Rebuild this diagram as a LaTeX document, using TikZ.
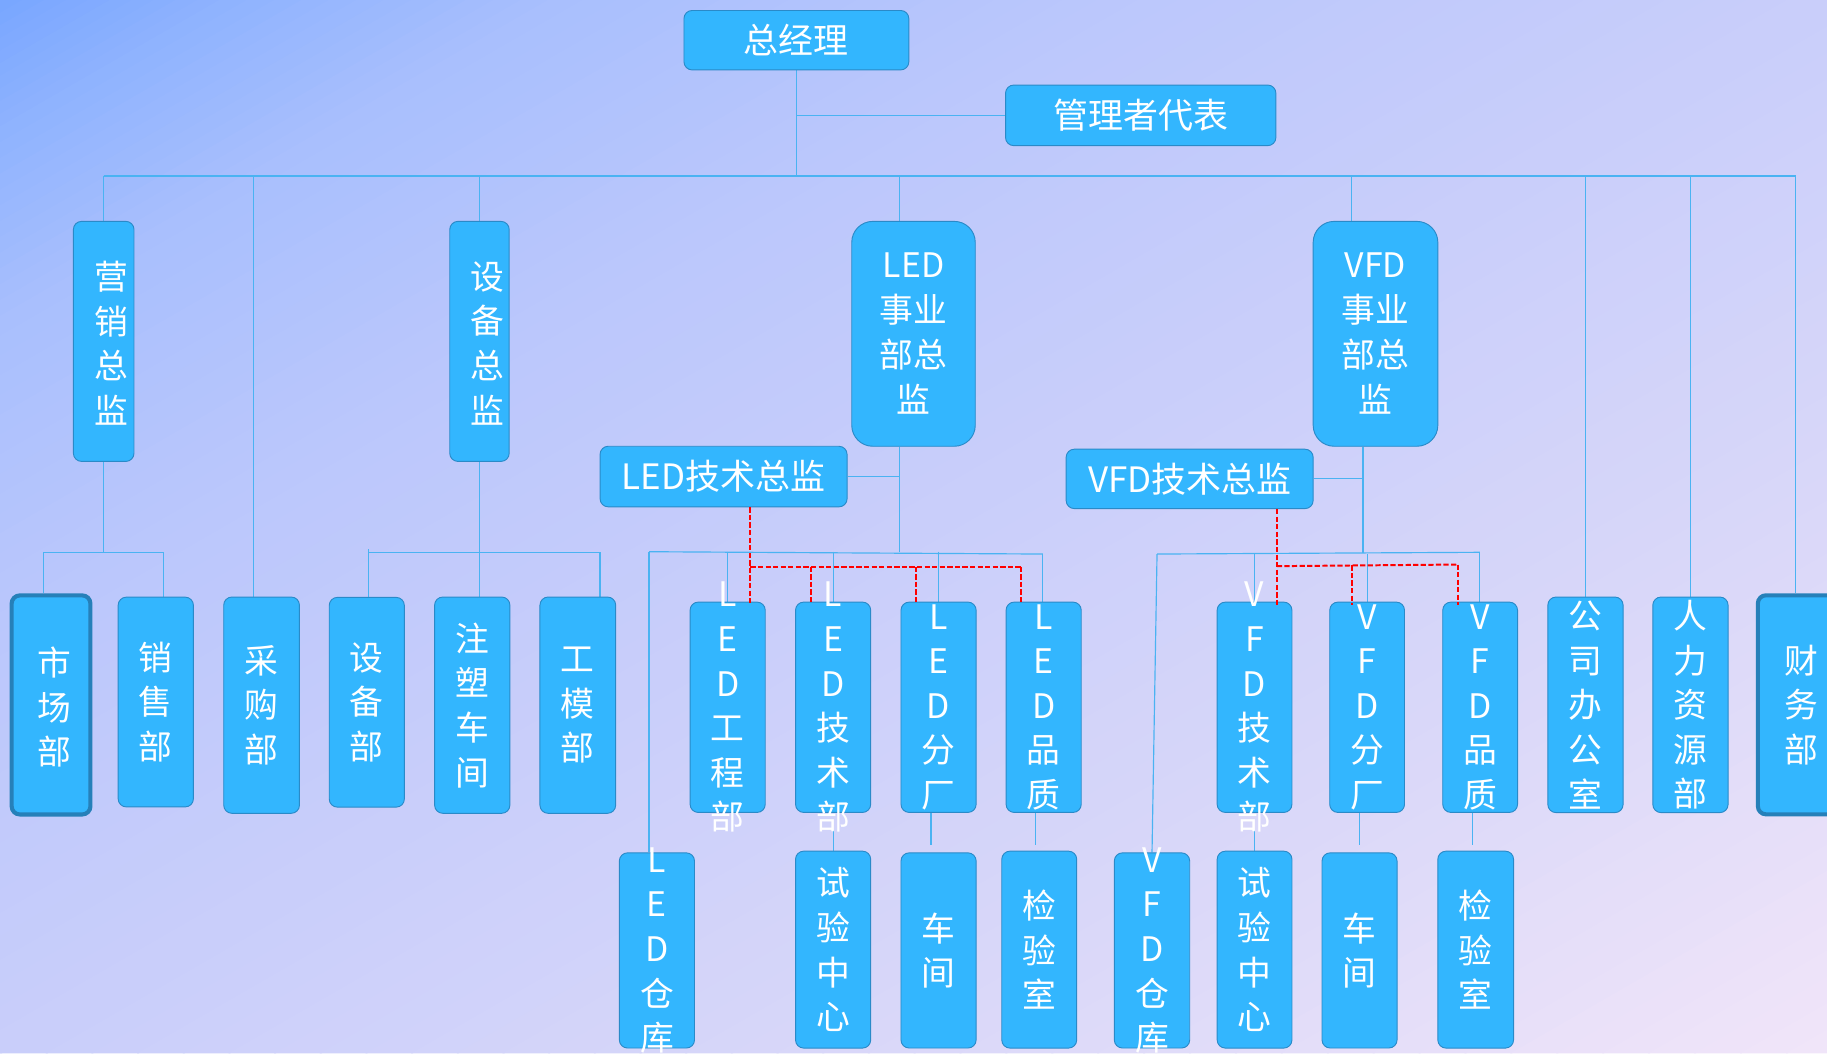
\documentclass[tikz,border=0pt]{standalone}
\usepackage{fontspec}
\setmainfont{Noto Sans CJK SC}
\usetikzlibrary{calc}
\definecolor{boxc}{HTML}{33B6FE}
\definecolor{bdr}{HTML}{2A8AC8}
\definecolor{hotb}{HTML}{2680B9}
\definecolor{linec}{HTML}{4AB3F2}
\definecolor{g0}{HTML}{78A6FF}
\definecolor{g1}{HTML}{8EB2FE}
\definecolor{g2}{HTML}{A8BFFD}
\definecolor{g3}{HTML}{BBC7FC}
\definecolor{g4}{HTML}{C9CEFA}
\definecolor{g5}{HTML}{DAD8F9}
\definecolor{g6}{HTML}{F1E5F9}
\pgfdeclarelayer{back}
\pgfsetlayers{back,main}
\newcommand\VB[7]{%
  \node[#6, minimum width=#4pt, minimum height=#5pt] (#1) at (#2,#3) {};
  \node[vt] (#1t) at (#1) {#7};}
% gradient segment: s from #1 to #2 (x-intercept on top edge), colours #3 -> #4, #5 strips
\newcommand\bgseg[5]{%
  \foreach \i in {1,...,#5}{%
    \pgfmathsetmacro\sa{#1+(#2-#1)*(\i-1)/#5}%
    \pgfmathsetmacro\sb{#1+(#2-#1)*\i/#5+1.5}%
    \pgfmathsetmacro\pc{100*(1-(\i-0.5)/#5)}%
    \fill[color=#3!\pc!#4] (\sa,0) -- (\sb,0) -- (\sb-1568,904) -- (\sa-1568,904) -- cycle;
  }}
\begin{document}
\begin{tikzpicture}[x=1pt,y=-1pt,
 box/.style={draw=bdr, fill=boxc, line width=0.8pt, rounded corners=7pt, inner sep=0pt, text=white},
 hbox/.style={box, font=\fontsize{30}{36}\selectfont},
 hot/.style={box, draw=hotb, line width=3.5pt},
 vt/.style={text=white, align=center, inner sep=0pt, font=\fontsize{29}{38.3}\selectfont},
 ln/.style={draw=linec, line width=1pt},
 rdash/.style={draw=red, line width=1.7pt, dash pattern=on 4.5pt off 2pt},
]
\useasboundingbox (0,0) rectangle (1568,904);
\begin{pgfonlayer}{back}
\begin{scope}
\clip (0,0) rectangle (1568,904);
\fill[g6] (0,0) rectangle (1568,904);
\bgseg{0}{188}{g0}{g1}{10}
\bgseg{188}{470}{g1}{g2}{12}
\bgseg{470}{941}{g2}{g3}{16}
\bgseg{941}{1568}{g3}{g4}{18}
\bgseg{1568}{2352}{g4}{g5}{20}
\bgseg{2352}{3140}{g5}{g6}{20}
\end{scope}
\end{pgfonlayer}

% top
\node[hbox, minimum width=193pt, minimum height=51pt] (gm) at (683.5,34.5) {总经理};
\node[hbox, minimum width=232pt, minimum height=52pt] (rep) at (979,99) {管理者代表};

% directors
\VB{mkt}{89}{293}{52}{206}{box}{}
\node[vt] (mktx) at (96,294.5) {营\\销\\总\\监};
\VB{eqd}{411.5}{293}{51}{206}{box}{}
\node[vt] (eqdx) at (418,294.5) {设\\备\\总\\监};
\node[box, rounded corners=18pt, minimum width=106pt, minimum height=193pt, align=center, font=\fontsize{29}{38.7}\selectfont] (led) at (784,286.5) {LED\\事业\\部总\\监};
\node[box, rounded corners=18pt, minimum width=107pt, minimum height=193pt, align=center, font=\fontsize{29}{38.7}\selectfont] (vfd) at (1180.5,286.5) {VFD\\事业\\部总\\监};
\node[hbox, minimum width=212pt, minimum height=52pt] (ledt) at (621,409) {LED技术总监};
\node[hbox, minimum width=212pt, minimum height=51pt] (vfdt) at (1021,411) {VFD技术总监};

% row 1 left
\node[hot, minimum width=67.6pt, minimum height=188pt] (shichang) at (43.8,605) {};
\node[vt] (shichangt) at (46.3,607) {市\\场\\部};
\VB{xiaoshou}{133.7}{602.5}{64.6}{180}{box}{销\\售\\部}
\VB{caigou}{224.5}{605.2}{65}{185.6}{box}{采\\购\\部}
\VB{shebei}{314.8}{602.7}{64.5}{180}{box}{设\\备\\部}
\VB{zhusu}{405.3}{605.2}{64.6}{185.6}{box}{注\\塑\\车\\间}
\VB{gongmo}{495.9}{605.2}{65}{185.6}{box}{工\\模\\部}

% row 1 LED
\VB{lgc}{624.5}{607}{64.5}{180.5}{box}{L\\E\\D\\工\\程\\部}
\VB{ljs}{715}{607}{64.5}{180.5}{box}{L\\E\\D\\技\\术\\部}
\VB{lfc}{805.5}{607}{64.5}{180.5}{box}{L\\E\\D\\分\\厂}
\VB{lpz}{895.7}{607}{64.5}{180.5}{box}{L\\E\\D\\品\\质}

% row 1 VFD and right
\VB{vjs}{1076.7}{607}{64.2}{180.5}{box}{V\\F\\D\\技\\术\\部}
\VB{vfc}{1173.3}{607}{64.2}{180.5}{box}{V\\F\\D\\分\\厂}
\VB{vpz}{1270.3}{607}{64.2}{180.5}{box}{V\\F\\D\\品\\质}
\VB{gs}{1360.7}{604.9}{64.6}{185}{box}{公\\司\\办\\公\\室}
\VB{rl}{1450.8}{604.9}{64.6}{185}{box}{人\\力\\资\\源\\部}
\VB{cw}{1545.8}{604.9}{74.3}{188}{hot}{财\\务\\部}

% row 2
\VB{lck}{563.8}{815.7}{64.5}{167.5}{box}{L\\E\\D\\仓\\库}
\VB{lsy}{715}{815}{64.5}{169}{box}{试\\验\\中\\心}
\VB{lcj}{805.5}{815.7}{64.5}{167.5}{box}{车\\间}
\VB{ljy}{891.9}{815}{64.3}{169}{box}{检\\验\\室}
\VB{vck}{988.7}{815.7}{64.7}{167.5}{box}{V\\F\\D\\仓\\库}
\VB{vsy}{1076.7}{815}{64.2}{169}{box}{试\\验\\中\\心}
\VB{vcj}{1166.8}{815.7}{64.4}{167.5}{box}{车\\间}
\VB{vjy}{1266.5}{815}{65}{169}{box}{检\\验\\室}

\begin{pgfonlayer}{back}
% main bar
\coordinate (barL) at (89,151);
\coordinate (barR) at (1541,151);
\draw[ln] (gm.south) -- (gm.south |- barL);
\draw[ln] (gm.south |- rep.west) -- (rep.west);
\draw[ln, line width=1.4pt] (barL) -- (barR);
\draw[ln] (barL) -- (mkt.north);
\coordinate (cgx) at (217.8,151);
\draw[ln] (cgx) -- (cgx |- caigou.north);
\draw[ln] (eqd.north |- barL) -- (eqd.north);
\coordinate (ledx) at (772,151);
\draw[ln] (ledx) -- (ledx |- led.north);
\coordinate (vfdx) at (1160,151);
\draw[ln] (vfdx) -- (vfdx |- vfd.north);
\coordinate (gsx) at (1360.5,151);
\draw[ln] (gsx) -- (gsx |- gs.north);
\coordinate (rlx) at (1451,151);
\draw[ln] (rlx) -- (rlx |- rl.north);
\draw[ln] (barR) -- (barR |- cw.north);

% marketing
\coordinate (mkL) at (37.4,474);
\coordinate (mkR) at (140.5,474);
\draw[ln] (mkt.south) -- (mkt.south |- mkL);
\draw[ln] (mkL |- shichang.north) -- (mkL) -- (mkR) -- (mkR |- xiaoshou.north);

% equipment
\coordinate (eqL) at (316,474);
\coordinate (eqR) at (515,474);
\draw[ln] (eqd.south) -- (eqd.south |- zhusu.north);
\draw[ln] (eqL |- shebei.north) -- ($(eqL)+(0,-3)$);
\draw[ln] (eqL) -- (eqR) -- (eqR |- gongmo.north);

% LED
\coordinate (ledb) at (772,474);
\draw[ln] (ledx |- led.south) -- (ledb);
\draw[ln] (ledt.east) -- (ledx |- ledt.east);
\coordinate (lbL) at (557,473.5);
\coordinate (lbR) at (895,475.5);
\draw[ln] (lbL) -- (lbR);
\draw[ln] (lbL) -- (lbL |- lck.north);
\draw[ln] (lgc.north |- lbL) -- (lgc.north);
\draw[ln] (ljs.north |- lbL) -- (ljs.north);
\draw[ln] (lfc.north |- lbL) -- (lfc.north);
\draw[ln] (lbR) -- (lbR |- lpz.north);
\draw[ln] ($(ljs.south)+(0,15)$) -- (lsy.north);
\coordinate (lcx) at (799,0);
\draw[ln] (lfc.south -| lcx) -- ($(lcj.north -| lcx)+(0,-6)$);
\coordinate (ljx) at (889,0);
\draw[ln] (lpz.south -| ljx) -- ($(ljy.north -| ljx)+(0,-5)$);

% VFD
\coordinate (vfx2) at (1169.8,0);
\coordinate (vfb) at (1169.8,475);
\draw[ln] (vfd.south -| vfx2) -- (vfb);
\draw[ln] (vfdt.east) -- (vfdt.east -| vfx2);
\coordinate (vbL) at (993,475.5);
\coordinate (vbR) at (1270,474);
\draw[ln] (vbL) -- (vbR);
\draw[ln] (vbL) -- (vck.north);
\draw[ln] (vjs.north |- vbL) -- (vjs.north);
\draw[ln] (vfc.north |- vbL) -- (vfc.north);
\draw[ln] (vbR) -- (vbR |- vpz.north);
\draw[ln] ($(vjs.south)+(0,15)$) -- (vsy.north);
\coordinate (vcx) at (1166.9,0);
\draw[ln] (vfc.south -| vcx) -- ($(vcj.north -| vcx)+(0,-6)$);
\coordinate (vjx) at (1264,0);
\draw[ln] (vpz.south -| vjx) -- ($(vjy.north -| vjx)+(0,-5)$);
\end{pgfonlayer}

% red dashed
\coordinate (lr) at (644,486.4);
\coordinate (lr2) at (695.7,486.4);
\coordinate (lr3) at (786,486.4);
\coordinate (lr4) at (876,486.4);
\draw[rdash] (ledt.south -| lr) -- ($(lr |- lgc.north)+(0,2)$);
\draw[rdash] (lr) -- (lr4);
\draw[rdash] (lr2) -- ($(lr2 |- ljs.north)+(0,2)$);
\draw[rdash] (lr3) -- ($(lr3 |- lfc.north)+(0,2)$);
\draw[rdash] (lr4) -- ($(lr4 |- lpz.north)+(0,2)$);
\coordinate (vr) at (1095.8,485.9);
\coordinate (vr2) at (1160.4,485.2);
\coordinate (vr3) at (1251,484.5);
\draw[rdash] (vfdt.south -| vr) -- ($(vr |- vjs.north)+(0,3)$);
\draw[rdash] (vr) -- (vr3);
\draw[rdash] (vr2) -- ($(vr2 |- vfc.north)+(0,3)$);
\draw[rdash] (vr3) -- ($(vr3 |- vpz.north)+(0,3)$);
\end{tikzpicture}
\end{document}
